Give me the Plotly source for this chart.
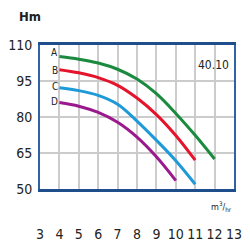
import plotly.graph_objects as go

flow = [4, 5, 6, 7, 8, 9, 10, 11, 12]
head_A = [105.2, 104.1, 102.5, 99.9, 95.8, 89.7, 81.5, 72.4, 62.5]
head_B = [99.7, 98.4, 96.4, 93.2, 87.9, 81.0, 72.3, 62.0]
head_C = [92.2, 91.0, 89.0, 85.3, 78.3, 70.3, 61.8, 52.0]
head_D = [86.0, 84.5, 81.9, 77.8, 71.6, 63.4, 53.5]

names = ["A", "B", "C", "D"]
colors = ["#1a8a3e", "#e5132b", "#1e9ad8", "#9a1a8e"]
label_y = [106.7, 99.3, 92.8, 86.6]
x_ticks = [3, 4, 5, 6, 7, 8, 9, 10, 11, 12, 13]
y_ticks = [50, 65, 80, 95, 110]

font = "Liberation Sans Narrow, Arial Narrow, DejaVu Sans Condensed, sans-serif"

fig = go.Figure()
for name, ys, c in zip(names, [head_A, head_B, head_C, head_D], colors):
    fig.add_trace(go.Scatter(x=flow[:len(ys)], y=ys, mode="lines", name=name,
                             line=dict(color=c, width=3, shape="spline", smoothing=1.0),
                             showlegend=False, hoverinfo="skip"))

for name, yv in zip(names, label_y):
    fig.add_annotation(x=3.77, y=yv, text=name, showarrow=False, xanchor="center",
                       yanchor="middle", font=dict(family=font, size=10, color="#222"))

fig.add_annotation(x=12.85, y=101.8, text="40.10", showarrow=False, xanchor="right",
                   yanchor="middle", font=dict(family=font, size=12, color="#222"))
fig.add_annotation(xref="paper", yref="paper", x=-0.05, y=1.2, text="<b>Hm</b>", showarrow=False,
                   xanchor="center", yanchor="middle", font=dict(family=font, size=13, color="#222"))
fig.add_annotation(xref="paper", yref="paper", x=1.0, y=-0.12,
                   text="m<sup>3</sup>/<sub>hr</sub>", showarrow=False,
                   xanchor="right", yanchor="middle", font=dict(family=font, size=9, color="#222"))

fig.update_layout(
    width=250, height=250,
    margin=dict(l=25, r=8, t=45, b=57),
    paper_bgcolor="white", plot_bgcolor="white",
    xaxis=dict(range=[3, 13], tickvals=x_ticks, ticktext=[str(v) for v in x_ticks],
               showgrid=True, gridcolor="#cccccc", gridwidth=1.5,
               showline=True, linecolor="#1f4e8c", linewidth=3, mirror=True,
               zeroline=False, ticks="", ticklabelstandoff=30, tickangle=0,
               tickfont=dict(family=font, size=14, color="#222")),
    yaxis=dict(range=[50, 110], tickvals=y_ticks, ticktext=[str(v) for v in y_ticks],
               showgrid=True, gridcolor="#cccccc", gridwidth=1.5,
               showline=True, linecolor="#2f63a6", linewidth=2, mirror=True,
               zeroline=False, ticks="", ticklabelstandoff=3,
               tickfont=dict(family=font, size=14, color="#222")),
)

fig.write_html("out.html")
